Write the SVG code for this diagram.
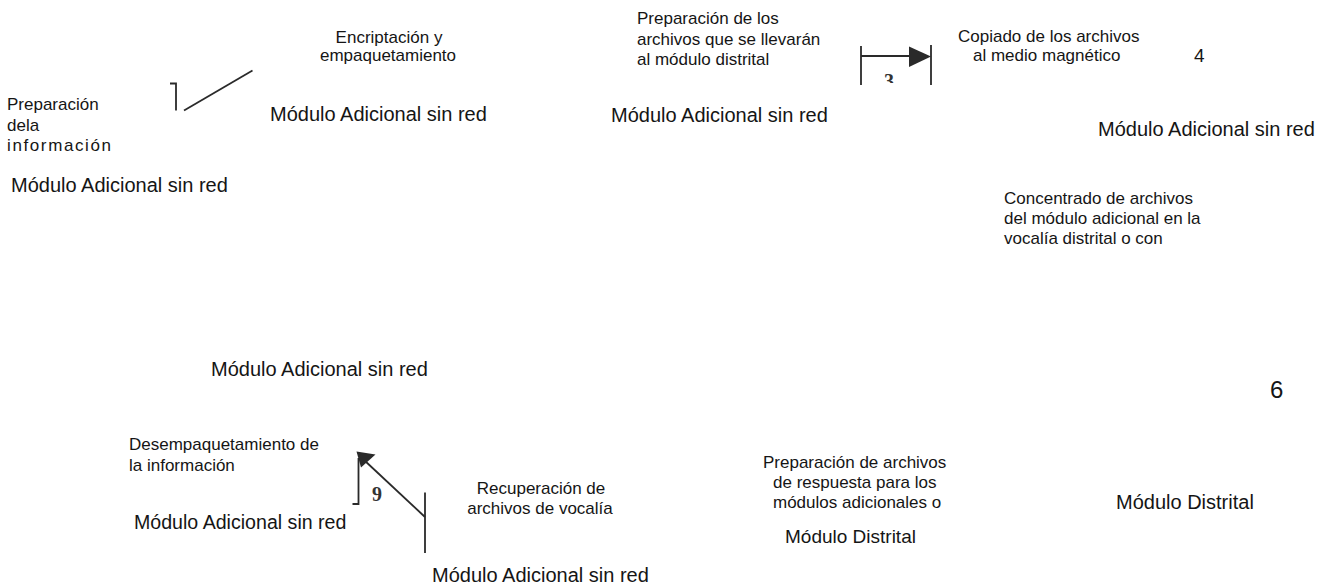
<svg xmlns="http://www.w3.org/2000/svg" width="1336" height="585" viewBox="0 0 1336 585">
  <style>
    text { font-family: "Liberation Sans", Arial, sans-serif; fill: #151515; }
    .s { font-size: 17px; }
    .m { font-size: 20px; }
    .num { font-family: "Liberation Serif", "Times New Roman", serif; font-weight: bold; font-size: 20px; fill: #333; }
    .ln { stroke: #2a2a2a; stroke-width: 1.8; fill: none; }
    .ah { fill: #2a2a2a; stroke: none; }
  </style>
  <defs>
    <clipPath id="clip3">
      <rect x="840" y="60" width="100" height="23"/>
    </clipPath>
  </defs>
  <rect width="1336" height="585" fill="#ffffff"/>

  <!-- step 1 -->
  <g id="node-preparacion">
    <text class="s" x="7" y="110">Preparación</text>
    <text class="s" x="7" y="130.5">dela</text>
    <text class="s" x="7" y="151" textLength="104">información</text>
    <text class="m" x="11" y="192">Módulo Adicional sin red</text>
  </g>

  <!-- step 2 -->
  <g id="node-encriptacion">
    <text class="s" x="389" y="43" text-anchor="middle">Encriptación y</text>
    <text class="s" x="388" y="61" text-anchor="middle">empaquetamiento</text>
    <text class="m" x="270" y="121">Módulo Adicional sin red</text>
  </g>

  <!-- step 3 -->
  <g id="node-preparacion-archivos">
    <text class="s" x="637" y="23.5">Preparación de los</text>
    <text class="s" x="637" y="44.5">archivos que se llevarán</text>
    <text class="s" x="637" y="65">al módulo distrital</text>
    <text class="m" x="611" y="122">Módulo Adicional sin red</text>
  </g>

  <!-- step 4 -->
  <g id="node-copiado">
    <text class="s" x="958" y="42">Copiado de los archivos</text>
    <text class="s" x="973" y="61">al medio magnético</text>
    <text x="1194" y="62" style="font-size:19px">4</text>
    <text class="m" x="1098" y="136">Módulo Adicional sin red</text>
  </g>

  <!-- step 5 -->
  <g id="node-concentrado">
    <text class="s" x="1004" y="204">Concentrado de archivos</text>
    <text class="s" x="1004" y="224">del módulo adicional en la</text>
    <text class="s" x="1004" y="244">vocalía distrital o con</text>
  </g>

  <!-- intermediate module -->
  <g id="node-modulo-adicional">
    <text class="m" x="211" y="376">Módulo Adicional sin red</text>
  </g>

  <!-- step 6 -->
  <g id="node-distrital">
    <text x="1270" y="398" style="font-size:24px">6</text>
    <text class="m" x="1116" y="509">Módulo Distrital</text>
  </g>

  <!-- step 7 -->
  <g id="node-respuesta">
    <text class="s" x="763" y="468">Preparación de archivos</text>
    <text class="s" x="773" y="488">de respuesta para los</text>
    <text class="s" x="773" y="508">módulos adicionales o</text>
    <text class="m" x="785" y="543" style="font-size:19px">Módulo Distrital</text>
  </g>

  <!-- step 8 -->
  <g id="node-recuperacion">
    <text class="s" x="541" y="494" text-anchor="middle">Recuperación de</text>
    <text class="s" x="540" y="514" text-anchor="middle">archivos de vocalía</text>
    <text class="m" x="432" y="582">Módulo Adicional sin red</text>
  </g>

  <!-- step 9 -->
  <g id="node-desempaquetamiento">
    <text class="s" x="129" y="450">Desempaquetamiento de</text>
    <text class="s" x="129" y="471">la información</text>
    <text class="m" x="134" y="529" style="font-size:19.6px">Módulo Adicional sin red</text>
  </g>

  <!-- connectors -->
  <g id="connectors">
    <!-- 1 → 2 -->
    <polyline class="ln" points="170,83.5 176,83.5 176,110.5"/>
    <line class="ln" x1="184" y1="110.5" x2="252.5" y2="70.5"/>

    <!-- 3 → 4 -->
    <line class="ln" x1="861" y1="46" x2="861" y2="85"/>
    <line class="ln" x1="931" y1="45" x2="931" y2="85"/>
    <line class="ln" x1="861" y1="56" x2="910" y2="56"/>
    <polygon class="ah" points="909,46.5 931,56.5 909,67"/>
    <text class="num" x="884" y="88" clip-path="url(#clip3)">3</text>

    <!-- 8 → 9 -->
    <polyline class="ln" points="352.5,504 358.5,504 358.5,458"/>
    <line class="ln" x1="425" y1="517" x2="364" y2="460"/>
    <polygon class="ah" points="356.5,451.5 375.5,454.5 361,467.5"/>
    <line class="ln" x1="425" y1="492.5" x2="425" y2="553"/>
    <text class="num" x="372" y="501">9</text>
  </g>
</svg>
